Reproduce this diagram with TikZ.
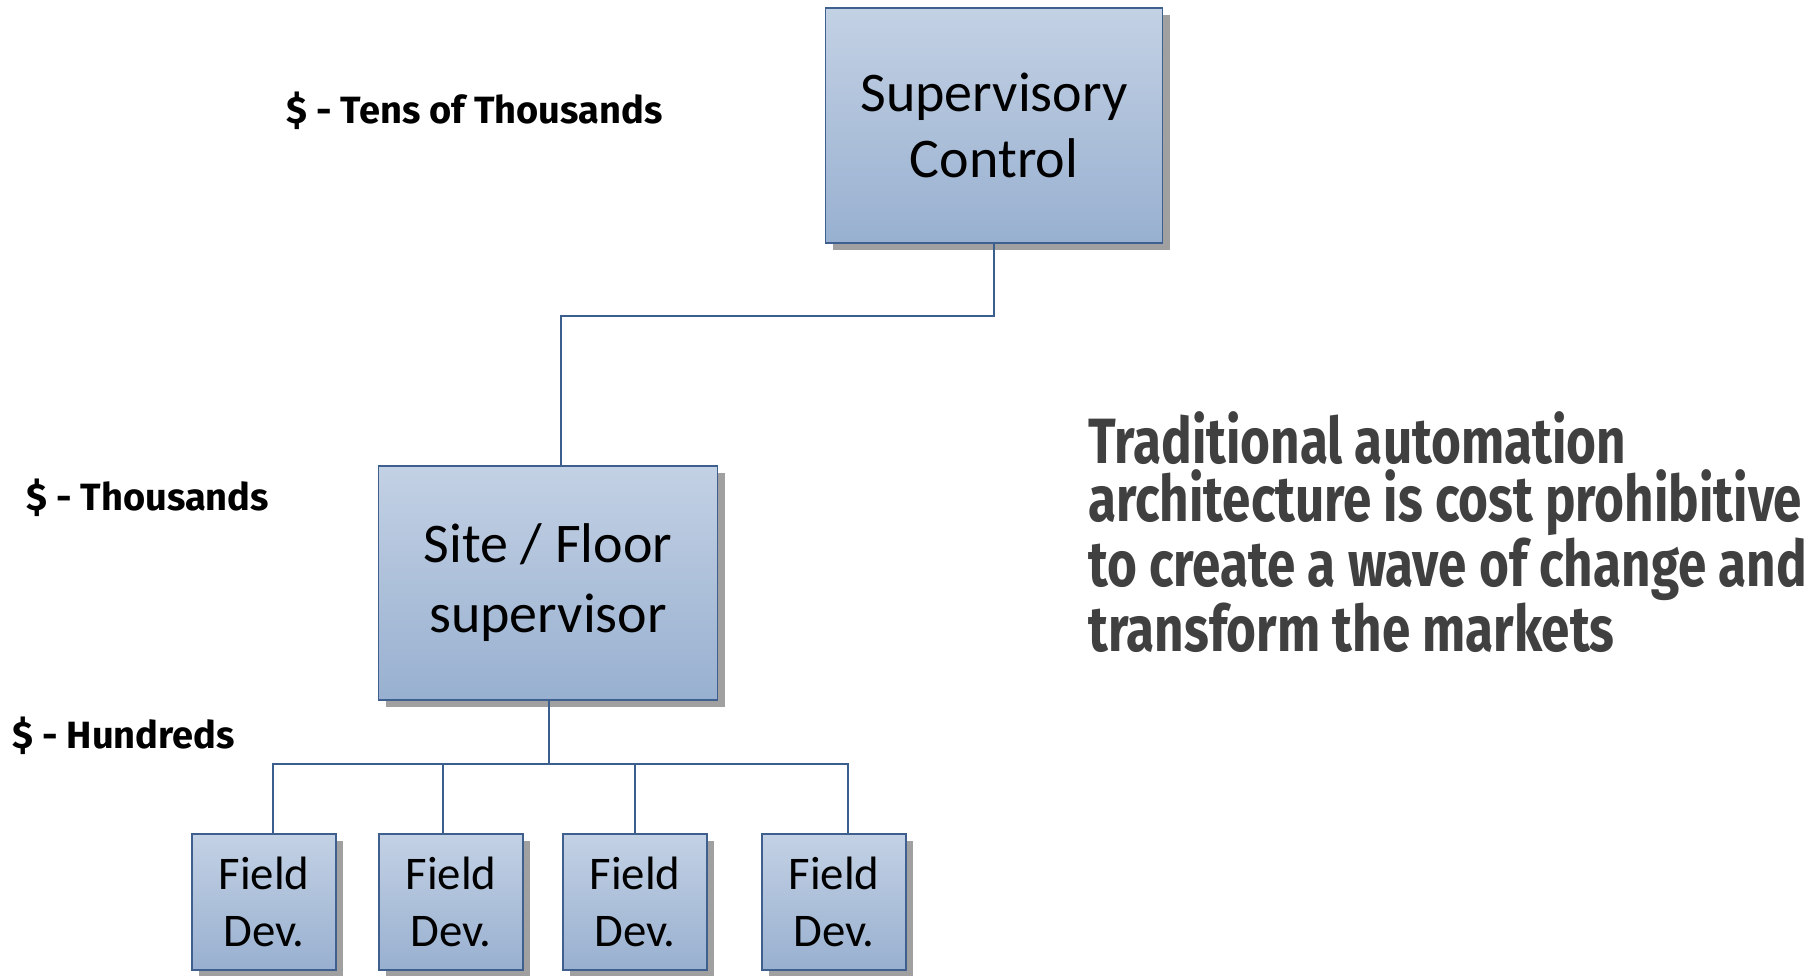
\documentclass[tikz,border=0pt]{standalone}
\usepackage{fontspec}
\setmainfont{Carlito}
\newfontfamily\condfont[FakeStretch=0.80]{Fira Sans}
\newfontfamily\costfont{Fira Sans}
\usetikzlibrary{shadows}
\definecolor{boxtop}{HTML}{C3D1E4}
\definecolor{boxbot}{HTML}{98B0D0}
\definecolor{boxline}{HTML}{3F5F8F}
\definecolor{wire}{HTML}{3A5F8F}
\definecolor{shade}{HTML}{A0A0A0}
\definecolor{note}{HTML}{404040}
\tikzset{
  unit/.style={draw=boxline, line width=0.8pt, top color=boxtop, bottom color=boxbot,
    drop shadow={shadow xshift=3.5pt, shadow yshift=-3.5pt, fill=shade, opacity=1},
    align=center, inner sep=0pt},
  cost/.style={font=\costfont\bfseries\fontsize{19}{22}\selectfont, anchor=west, inner sep=0pt},
  link/.style={draw=wire, line width=0.75pt}
}
\begin{document}
\begin{tikzpicture}[x=0.5pt, y=-0.5pt]
            \useasboundingbox (0,0) rectangle (1819,975);

            % boxes
            \node[unit, minimum width=168.5pt, minimum height=117.5pt,
              font=\fontsize{28}{33}\selectfont] (sup) at (994,125.5) {Supervisory\\Control};
            \node[unit, minimum width=169.5pt, minimum height=117pt,
              font=\fontsize{28}{35}\selectfont] (site) at (548,583) {Site / Floor\\supervisor};

            \foreach \n/\x in {1/264, 2/451, 3/635, 4/834}
              \node[unit, minimum width=72pt, minimum height=68pt,
                font=\fontsize{23.4}{28.5}\selectfont] (dev\n) at (\x,902) {Field\\Dev.};

            % cost labels
            \node[cost] (tens) at (286,111) {\$ - Tens of Thousands};
            \node[cost] (thou) at (26,498) {\$ - Thousands};
            \node[cost] (hund) at (12,736) {\$ - Hundreds};

            % connectors
            \coordinate (bend) at (561,316);
            \draw[link] (sup.south) |- (bend) -- ([xshift=6.5pt]site.north);
            \coordinate (bus) at (549,764);
            \draw[link] ([xshift=0.5pt]site.south) -- (bus);
            \draw[link] ([xshift=4.5pt]dev1.north) |- (bus) -| ([xshift=7pt]dev4.north);
            \draw[link] ([xshift=-4pt]dev2.north) -- ([xshift=-4pt]dev2.north |- bus);
            \draw[link] (dev3.north) -- (dev3.north |- bus);

            \node[anchor=north west, align=left, inner sep=0pt, text=note,
              font=\condfont\bfseries\fontsize{32}{29.3}\selectfont] (claim) at (1088,411)
              {Traditional automation\\architecture is cost prohibitive\\to create a wave of change and\\transform the markets};
        \end{tikzpicture}
\end{document}
